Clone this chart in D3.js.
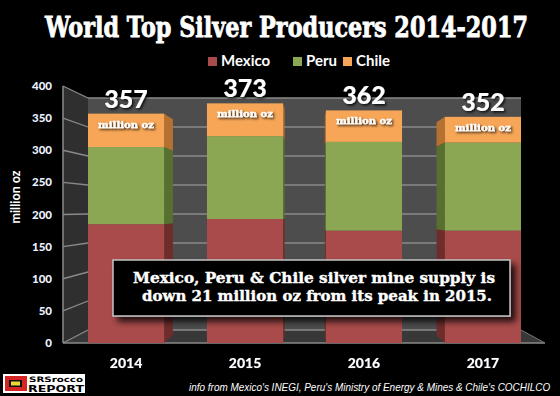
<!DOCTYPE html>
<html><head><meta charset="utf-8">
<script src="https://cdn.jsdelivr.net/npm/d3@7"></script>
<style>html,body{margin:0;padding:0;background:#000;}svg{display:block;}</style>
</head><body>
<script>
const years = ["2014","2015","2016","2017"];
const seriesNames = ["Mexico","Peru","Chile"];
const mexico = [185, 193, 175, 175];
const peru = [120, 129, 138, 137];
const chile = [52, 51, 49, 40];
const yTicks = [0,50,100,150,200,250,300,350,400];
const colors = ["#a94b4a","#8ba753","#f7a657"];
const sideColors = ["#6e2c2b","#58702f","#b5712f"];

const W=560,H=396;
const svg=d3.select("body").append("svg").attr("width",W).attr("height",H);
svg.append("rect").attr("width",W).attr("height",H).attr("fill","#000");
const defs=svg.append("defs");
const sh=defs.append("filter").attr("id","sh").attr("x","-20%").attr("y","-30%").attr("width","150%").attr("height","170%");
sh.append("feDropShadow").attr("dx",1.5).attr("dy",1.5).attr("stdDeviation",1).attr("flood-color","#000").attr("flood-opacity",0.85);
const bsh=defs.append("filter").attr("id","bsh").attr("x","-10%").attr("y","-20%").attr("width","130%").attr("height","160%");
bsh.append("feDropShadow").attr("dx",5).attr("dy",5).attr("stdDeviation",3).attr("flood-color","#000").attr("flood-opacity",0.8);

// scales: front plane and back plane (perspective)
const yF=d3.scaleLinear().domain([0,400]).range([343,86]);
const yB=d3.scaleLinear().domain([0,400]).range([330,98]);
const xF=d3.scaleLinear().domain([0,1]).range([63,545]);
const xB=d3.scaleLinear().domain([0,1]).range([88,521]);
const x=d3.scaleBand().domain(years).range([88,521]).paddingInner(0.36).paddingOuter(0);
const vx=308; // horizontal vanishing
const depthF=0.6;
function backX(px,f){ const full=vx+(px-vx)*((xB(1)-xB(0))/(xF(1)-xF(0))); return px+(full-px)*f; }
function backY(v,f){ return yF(v)+(yB(v)-yF(v))*f; }

// walls
svg.append("polygon").attr("points",[[xF(0),yF(400)],[xB(0),yB(400)],[xB(0),yB(0)],[xF(0),yF(0)]].join(" ")).attr("fill","#2f2f2f");
svg.append("rect").attr("x",xB(0)).attr("y",yB(400)).attr("width",xB(1)-xB(0)).attr("height",yB(0)-yB(400)).attr("fill","#4d4d4d");
svg.append("polygon").attr("points",[[xF(0),yF(0)],[xB(0),yB(0)],[xB(1),yB(0)],[xF(1),yF(0)]].join(" ")).attr("fill","#383838");
// gridlines
yTicks.forEach(t=>{
  svg.append("line").attr("x1",xB(0)).attr("x2",xB(1)).attr("y1",yB(t)).attr("y2",yB(t)).attr("stroke","#8a8a8a").attr("stroke-width",1.5);
  svg.append("line").attr("x1",xF(0)).attr("x2",xB(0)).attr("y1",yF(t)).attr("y2",yB(t)).attr("stroke","#8a8a8a").attr("stroke-width",1.3);
});
svg.append("line").attr("x1",xF(0)).attr("x2",xF(0)).attr("y1",yF(400)).attr("y2",yF(0)).attr("stroke","#8a8a8a").attr("stroke-width",1.5);
svg.append("line").attr("x1",xF(0)).attr("x2",xF(1)).attr("y1",yF(0)).attr("y2",yF(0)).attr("stroke","#8a8a8a").attr("stroke-width",1.5);
svg.append("line").attr("x1",xB(1)).attr("x2",xF(1)).attr("y1",yB(0)).attr("y2",yF(0)).attr("stroke","#777").attr("stroke-width",1);

// bars
const data=years.map((y,i)=>({year:y,vals:[mexico[i],peru[i],chile[i]]}));
data.forEach(d=>{
  d.total=d3.sum(d.vals);
  const x0=x(d.year),x1=x0+x.bandwidth();
  const cx=(x0+x1)/2;
  const rightSide = cx<vx;
  const ex = rightSide? x1 : x0;
  let base=0;
  d.vals.forEach((v,k)=>{
    const lo=base,hi=base+v; base=hi;
    const bx=backX(ex,depthF);
    svg.append("polygon").attr("points",[[ex,yF(hi)],[bx,backY(hi,depthF)],[bx,backY(lo,depthF)],[ex,yF(lo)]].join(" ")).attr("fill",sideColors[k]);
  });
  base=0;
  d.vals.forEach((v,k)=>{
    const lo=base,hi=base+v; base=hi;
    svg.append("rect").attr("x",x0).attr("y",yF(hi)).attr("width",x.bandwidth()).attr("height",yF(lo)-yF(hi)).attr("fill",colors[k]);
  });
  svg.append("text").attr("x",cx).attr("y",yF(d.total)+14).attr("text-anchor","middle")
    .attr("font-family","DejaVu Serif").attr("font-weight","bold").attr("font-size",10).attr("fill","#fff")
    .attr("stroke","#fff").attr("stroke-width",0.3)
    .attr("textLength",56).attr("lengthAdjust","spacingAndGlyphs").attr("filter","url(#sh)").text("million oz");
  svg.append("text").attr("x",cx).attr("y",yF(d.total)-6).attr("text-anchor","middle")
    .attr("font-family","Lato").attr("font-weight","900").attr("font-size",25).attr("fill","#fff")
    .attr("filter","url(#sh)").text(d.total);
  svg.append("text").attr("x",cx).attr("y",368).attr("text-anchor","middle")
    .attr("font-family","Lato").attr("font-weight","900").attr("font-size",14).attr("fill","#fff")
    .attr("stroke","#223").attr("stroke-width",0.6).attr("paint-order","stroke").attr("filter","url(#sh)").text(d.year);
});

// y tick labels
yTicks.forEach(t=>{
  svg.append("text").attr("x",52).attr("y",yF(t)+4).attr("text-anchor","end")
    .attr("font-family","Lato").attr("font-weight","900").attr("font-size",11.5).attr("fill","#eef2ff").text(t);
});
svg.append("text").attr("transform","translate(20,197) rotate(-90)").attr("text-anchor","middle")
  .attr("font-family","Lato").attr("font-weight","bold").attr("font-size",12.5).attr("fill","#fff").text("million oz");

// title
svg.append("text").attr("transform","translate(45,37) scale(1,1.18)").attr("x",0).attr("y",0)
  .attr("font-family","DejaVu Serif").attr("font-weight","bold")
  .attr("font-size",23).attr("fill","#fff").attr("stroke","#fff").attr("stroke-width",0.7)
  .attr("textLength",483).attr("lengthAdjust","spacingAndGlyphs")
  .text("World Top Silver Producers 2014-2017");

// legend
const legX=[208,293,343];
seriesNames.forEach((n,i)=>{
  svg.append("rect").attr("x",legX[i]).attr("y",57).attr("width",9).attr("height",9).attr("fill",colors[i]);
  svg.append("text").attr("x",legX[i]+13).attr("y",66).attr("font-family","Lato").attr("font-weight","bold")
    .attr("font-size",15).attr("fill","#fff").text(n);
});

// annotation box
svg.append("rect").attr("x",113).attr("y",260).attr("width",397).attr("height",56).attr("fill","#000")
  .attr("stroke","#c4c4c4").attr("stroke-width",1.5).attr("filter","url(#bsh)");
svg.append("text").attr("x",314).attr("y",283).attr("text-anchor","middle").attr("font-family","DejaVu Serif")
  .attr("font-weight","bold").attr("font-size",15.5).attr("fill","#fff").attr("stroke","#fff").attr("stroke-width",0.4)
  .attr("textLength",362).attr("lengthAdjust","spacingAndGlyphs")
  .text("Mexico, Peru & Chile silver mine supply is");
svg.append("text").attr("x",317).attr("y",301).attr("text-anchor","middle").attr("font-family","DejaVu Serif")
  .attr("font-weight","bold").attr("font-size",15.5).attr("fill","#fff").attr("stroke","#fff").attr("stroke-width",0.4)
  .attr("textLength",350).attr("lengthAdjust","spacingAndGlyphs")
  .text("down 21 million oz from its peak in 2015.");

// footer
svg.append("text").attr("transform","translate(189,391) scale(0.86,1)").attr("x",0).attr("y",0)
  .attr("font-family","Liberation Sans").attr("font-style","italic")
  .attr("font-size",10.5).attr("fill","#fff").attr("textLength",420).attr("lengthAdjust","spacingAndGlyphs")
  .text("info from Mexico's INEGI, Peru's Ministry of Energy & Mines & Chile's COCHILCO");

// logo
svg.append("rect").attr("x",3).attr("y",374).attr("width",82).attr("height",19).attr("fill","#fff");
svg.append("rect").attr("x",5).attr("y",376).attr("width",22).attr("height",15).attr("fill","#d42424");
svg.append("rect").attr("x",9).attr("y",380).attr("width",13).attr("height",7).attr("fill","#111");
svg.append("rect").attr("x",11).attr("y",381.5).attr("width",9).attr("height",4).attr("fill","#e8d830");
svg.append("text").attr("x",29).attr("y",382).attr("font-family","DejaVu Sans").attr("font-weight","bold")
  .attr("font-size",7.5).attr("fill","#000").attr("textLength",54).attr("lengthAdjust","spacingAndGlyphs").text("SRSrocco");
svg.append("text").attr("x",28).attr("y",392).attr("font-family","DejaVu Sans").attr("font-weight","bold")
  .attr("font-size",9.5).attr("fill","#000").attr("textLength",56).attr("lengthAdjust","spacingAndGlyphs").text("REPORT");
</script>
</body></html>
